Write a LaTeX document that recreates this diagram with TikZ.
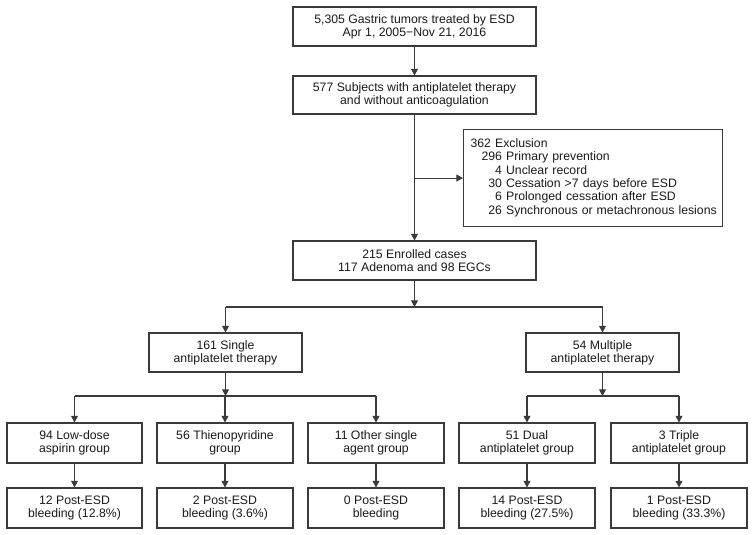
\documentclass[tikz,border=0pt]{standalone}
\usepackage{fontspec}
\setmainfont{Liberation Sans}
\usetikzlibrary{arrows.meta}
\definecolor{ln}{HTML}{3A3A3A}
\definecolor{tx}{HTML}{1A1A1A}
\tikzset{
  bx/.style 2 args={draw=ln, line width=0.8pt, minimum width={#1*0.75pt}, minimum height={#2*0.75pt},
    inner sep=1pt, align=center, text=tx, font=\fontsize{9.2}{10}\selectfont},
  arr/.style={draw=ln, line width=0.8pt, -{Triangle[length=5pt,width=5.2pt]}},
  ln/.style={draw=ln, line width=0.8pt}
}
\begin{document}
\begin{tikzpicture}[x=0.75pt,y=-0.75pt]
\useasboundingbox (0,0) rectangle (753,535);
\node[bx={243}{39}] (b1) at (414.5,26.5) {5,305 Gastric tumors treated by ESD\\Apr 1, 2005−Nov 21, 2016};
\node[bx={243}{38}] (b2) at (414.5,95) {577 Subjects with antiplatelet therapy\\and without anticoagulation};
\node[bx={259}{97}, anchor=north west, inner xsep=5.25pt, text width={245*0.75pt}, align=left] (ex) at (463,129) {%
\begin{tabular}{@{\hspace{8.25pt}}r@{ }l@{}}
\multicolumn{2}{@{}l@{}}{362 Exclusion}\\
296 & Primary prevention\\
4 & Unclear record\\
30 & Cessation >7 days before ESD\\
6 & Prolonged cessation after ESD\\
26 & Synchronous or metachronous lesions
\end{tabular}};
\node[bx={243}{39}] (b3) at (414.5,260.5) {215 Enrolled cases\\117 Adenoma and 98 EGCs};
\node[bx={153}{39}] (s1) at (225.5,352.5) {161 Single\\antiplatelet therapy};
\node[bx={153}{39}] (m1) at (602.5,352.5) {54 Multiple\\antiplatelet therapy};
\node[bx={135}{40}] (a2) at (74.5,443) {94 Low-dose\\aspirin group};
\node[bx={136}{40}] (b2r) at (225,443) {56 Thienopyridine\\group};
\node[bx={136}{40}] (c2) at (376,443) {11 Other single\\agent group};
\node[bx={136}{40}] (d2) at (527,443) {51 Dual\\antiplatelet group};
\node[bx={136}{40}] (e2) at (679,443) {3 Triple\\antiplatelet group};
\node[bx={135}{40}] (a3) at (74.5,508) {12 Post-ESD\\bleeding (12.8\%)};
\node[bx={136}{40}] (b3r) at (225,508) {2 Post-ESD\\bleeding (3.6\%)};
\node[bx={136}{40}] (c3) at (376,508) {0 Post-ESD\\bleeding};
\node[bx={136}{40}] (d3) at (527,508) {14 Post-ESD\\bleeding (27.5\%)};
\node[bx={136}{40}] (e3) at (679,508) {1 Post-ESD\\bleeding (33.3\%)};
\coordinate (j1) at (414.5,307);
\coordinate (j2) at (225.5,396);
\coordinate (j3) at (602.5,396);
\draw[arr] (b1) -- (b2);
\draw[arr] (b2) -- (b3);
\draw[arr] (b2.south |- ex.west) -- (ex.west);
\draw[arr] (b3) -- (j1);
\draw[ln] (s1.north |- j1) -- (m1.north |- j1);
\draw[arr] (s1.north |- j1) -- (s1.north);
\draw[arr] (m1.north |- j1) -- (m1.north);
\draw[arr] (s1) -- (j2);
\draw[ln] (a2.north |- j2) -- (c2.north |- j2);
\draw[arr] (a2.north |- j2) -- (a2.north);
\draw[arr] (b2r.north |- j2) -- (b2r.north);
\draw[arr] (c2.north |- j2) -- (c2.north);
\draw[arr] (m1) -- (j3);
\draw[ln] (d2.north |- j3) -- (e2.north |- j3);
\draw[arr] (d2.north |- j3) -- (d2.north);
\draw[arr] (e2.north |- j3) -- (e2.north);
\draw[arr] (a2) -- (a3);
\draw[arr] (b2r) -- (b3r);
\draw[arr] (c2) -- (c3);
\draw[arr] (d2) -- (d3);
\draw[arr] (e2) -- (e3);
\end{tikzpicture}
\end{document}
